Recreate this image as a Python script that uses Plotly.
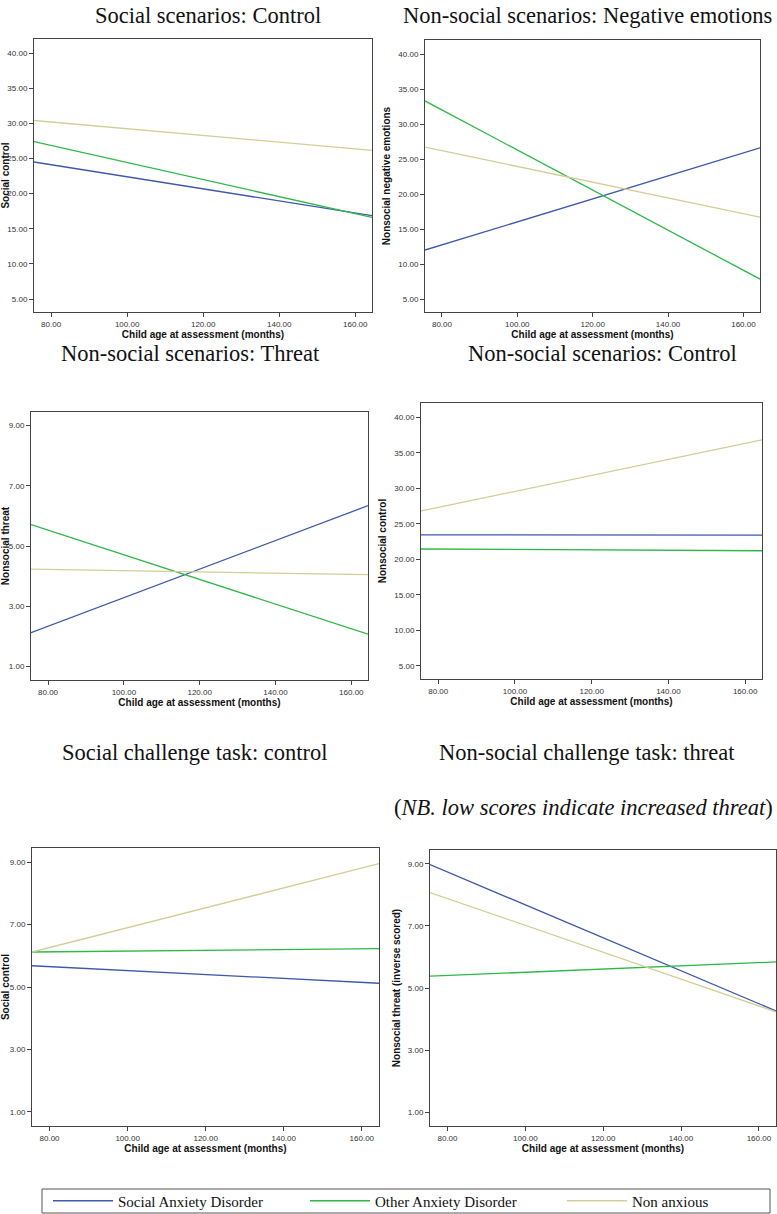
import plotly.graph_objects as go

W, H = 777, 1214

groups = ["Social Anxiety Disorder", "Other Anxiety Disorder", "Non anxious"]
colors = ["#3E58AC", "#2EB848", "#D3CE97"]
age = [75.5, 164.4]  # child age at assessment (months): min, max

social_control = [[24.5, 16.85], [27.4, 16.6], [30.4, 26.15]]
nonsocial_negemo = [[12.0, 26.6], [33.3, 7.85], [26.7, 16.7]]
nonsocial_threat = [[2.12, 6.34], [5.71, 2.07], [4.23, 4.05]]
nonsocial_control = [[23.45, 23.4], [21.45, 21.2], [26.8, 36.8]]
task_social_control = [[5.68, 5.12], [6.12, 6.23], [6.12, 8.95]]
task_nonsocial_threat = [[8.98, 4.26], [5.38, 5.84], [8.08, 4.23]]

panel_data = [social_control, nonsocial_negemo, nonsocial_threat,
              nonsocial_control, task_social_control, task_nonsocial_threat]
y_titles = ["Social control", "Nonsocial negative emotions", "Nonsocial threat",
            "Nonsocial control", "Social control", "Nonsocial threat (inverse scored)"]
x_title = "Child age at assessment (months)"
x_ticks = [80, 100, 120, 140, 160]
y_ticks_big = [5, 10, 15, 20, 25, 30, 35, 40]
y_ticks_small = [1, 3, 5, 7, 9]
panel_yticks = [y_ticks_big, y_ticks_big, y_ticks_small, y_ticks_big, y_ticks_small, y_ticks_small]
range_big = [3.15, 42.0]
range_small = [0.55, 9.45]

titles = [
    ("Social scenarios: Control", 208, 15),
    ("Non-social scenarios: Negative emotions", 587, 15),
    ("Non-social scenarios: Threat", 190, 353),
    ("Non-social scenarios: Control", 602, 353),
    ("Social challenge task: control", 195, 752),
    ("Non-social challenge task: threat", 587, 752),
]
note = ("(<i>NB. low scores indicate increased threat</i>)", 583, 807)

# plot boxes in pixels: (left, right, top, bottom)
boxes = [
    (34, 372, 39, 312),
    (425, 760, 40, 312),
    (31, 368, 412, 680),
    (421, 762, 403, 679),
    (32, 379, 848, 1126),
    (430, 776, 850, 1126),
]
legend_widths = [182, 182, 90]

fig = go.Figure()
for i, data in enumerate(panel_data):
    ax = "" if i == 0 else str(i + 1)
    for g, (name, col) in enumerate(zip(groups, colors)):
        fig.add_trace(go.Scatter(
            x=age, y=data[g], mode="lines", name=name,
            line=dict(color=col, width=1.3),
            xaxis="x" + ax, yaxis="y" + ax,
            showlegend=(i == 0), legendgroup=name,
            legendwidth=legend_widths[g],
        ))
    l, r, t, b = boxes[i]
    yt = panel_yticks[i]
    common = dict(showline=True, mirror=True, linecolor="#444444", linewidth=1,
                  ticks="outside", ticklen=4, tickcolor="#444444", tickwidth=1,
                  showgrid=False, zeroline=False, tickformat=".2f",
                  tickfont=dict(family="Liberation Sans, Arial", size=8, color="#333333"))
    fig.layout["xaxis" + ax] = dict(
        domain=[l / W, r / W], anchor="y" + ax, range=age, tickvals=x_ticks,
        title=dict(text="<b>" + x_title + "</b>", standoff=3,
                   font=dict(family="Liberation Sans, Arial", size=10, color="#111111")),
        **common)
    fig.layout["yaxis" + ax] = dict(
        domain=[1 - b / H, 1 - t / H], anchor="x" + ax,
        range=range_big if yt is y_ticks_big else range_small, tickvals=yt,
        title=dict(text="<b>" + y_titles[i] + "</b>", standoff=5,
                   font=dict(family="Liberation Sans, Arial", size=10, color="#111111")),
        **common)

annotations = []
for text, cx, cy in titles + [note]:
    annotations.append(dict(text=text, x=cx / W, y=1 - cy / H, xref="paper", yref="paper",
                            showarrow=False, xanchor="center", yanchor="middle",
                            font=dict(family="Liberation Serif, Times New Roman", size=22.5, color="#111111")))

fig.update_layout(
    width=W, height=H, margin=dict(l=0, r=0, t=0, b=0, autoexpand=False),
    paper_bgcolor="white", plot_bgcolor="white",
    annotations=annotations,
    showlegend=True,
    legend=dict(orientation="h", xref="container", yref="container",
                x=48 / W, y=1 - 1201 / H, xanchor="left", yanchor="middle",
                entrywidthmode="pixels", itemwidth=60,
                font=dict(family="Liberation Serif, Times New Roman", size=15, color="#111111"),
                bgcolor="rgba(0,0,0,0)"),
    shapes=[dict(type="rect", xref="paper", yref="paper",
                 x0=42 / W, x1=770 / W, y0=1 - 1213 / H, y1=1 - 1189 / H,
                 line=dict(color="#555555", width=1))],
)

fig.write_html("out.html", config={"displayModeBar": False},
               post_script="document.body.style.margin='0';")
